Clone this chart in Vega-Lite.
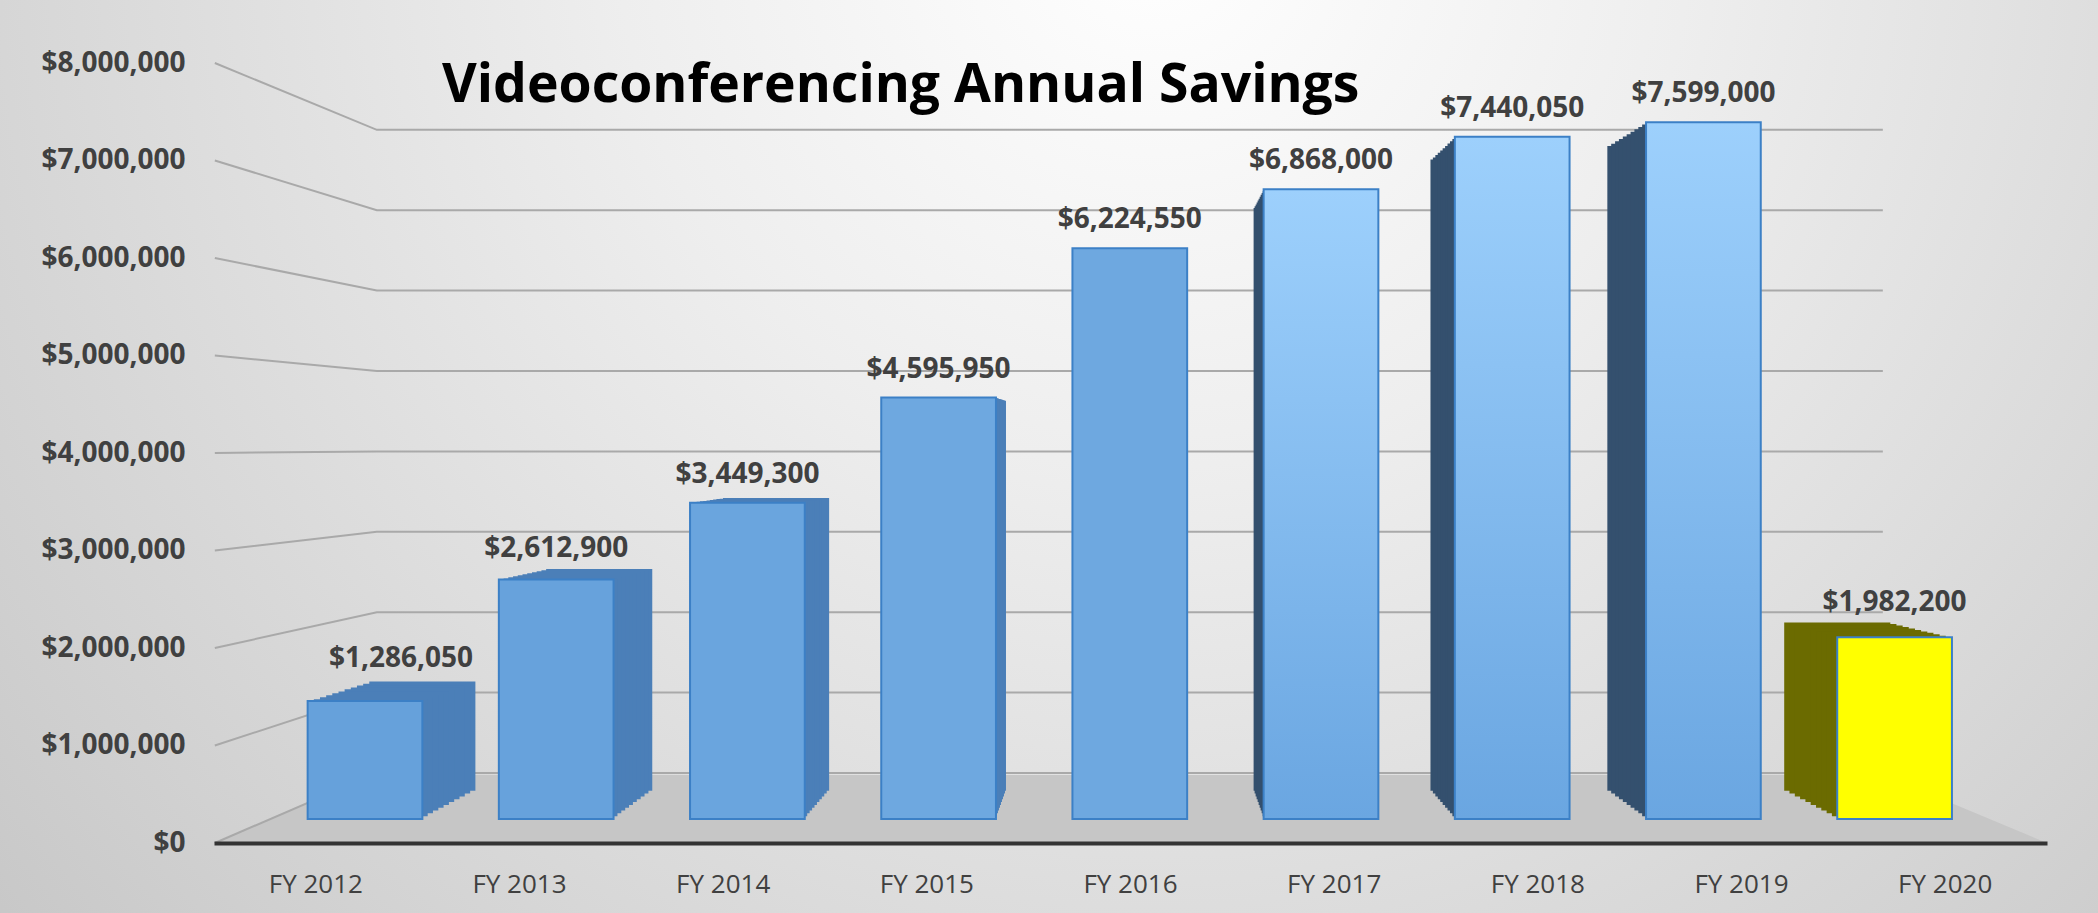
{
  "$schema": "https://vega.github.io/schema/vega-lite/v6.json",
  "width": 2098,
  "height": 913,
  "padding": 0,
  "autosize": {"type": "none"},
  "background": "#d2d2d2",
  "view": {
    "stroke": null,
    "fill": {
      "gradient": "radial",
      "x1": 0.55, "y1": 0.25, "r1": 0,
      "x2": 0.55, "y2": 0.25, "r2": 0.85,
      "stops": [
        {"offset": 0, "color": "#ffffff"},
        {"offset": 0.3, "color": "#eeeeee"},
        {"offset": 0.75, "color": "#cfcfcf"},
        {"offset": 1, "color": "#bdbdbd"}
      ]
    }
  },
  "title": {
    "text": "Videoconferencing Annual Savings",
    "anchor": "start",
    "frame": "group",
    "dx": 442,
    "offset": -155,
    "font": "Open Sans",
    "fontSize": 53.5,
    "fontWeight": "bold",
    "color": "#000000",
    "baseline": "alphabetic"
  },
  "datasets": {
    "savings": [
      {"Year": "FY 2012", "Savings": 1286050},
      {"Year": "FY 2013", "Savings": 2612900},
      {"Year": "FY 2014", "Savings": 3449300},
      {"Year": "FY 2015", "Savings": 4595950},
      {"Year": "FY 2016", "Savings": 6224550},
      {"Year": "FY 2017", "Savings": 6868000},
      {"Year": "FY 2018", "Savings": 7440050},
      {"Year": "FY 2019", "Savings": 7599000},
      {"Year": "FY 2020", "Savings": 1982200}
    ],
    "grid": [
      {"v": 0}, {"v": 1000000}, {"v": 2000000}, {"v": 3000000}, {"v": 4000000},
      {"v": 5000000}, {"v": 6000000}, {"v": 7000000}, {"v": 8000000}
    ],
    "floor": [{"part": "floor"}]
  },
  "resolve": {
    "scale": {"x": "independent", "y": "independent", "color": "independent", "shape": "independent"},
    "axis": {"x": "independent", "y": "independent"}
  },
  "layer": [
    {
      "data": {"name": "floor"},
      "mark": {"type": "point", "shape": "M-1,0L-0.8222,-0.0742L0.8222,-0.0742L1,0Z", "size": 3359889, "filled": true, "color": "#c6c6c6", "opacity": 1, "strokeWidth": 0},
      "encoding": {
        "x": {
          "datum": "FY 2016", "type": "nominal",
          "scale": {"type": "band", "domain": ["FY 2012", "FY 2013", "FY 2014", "FY 2015", "FY 2016", "FY 2017", "FY 2018", "FY 2019", "FY 2020"], "range": [214, 2047], "paddingInner": 0, "paddingOuter": 0},
          "axis": {"title": null, "orient": "bottom", "offset": -70, "domainColor": "#333333", "domainWidth": 4, "ticks": false, "tickSize": 0, "labelPadding": 28, "labelFont": "Open Sans", "labelFontSize": 26, "labelColor": "#404040", "labelAngle": 0, "grid": false, "zindex": 1}
        },
        "y": {
          "datum": 0, "type": "quantitative",
          "scale": {"domain": [0, 8000000], "range": [843, 63], "nice": false},
          "axis": {"title": null, "orient": "left", "offset": -214, "domain": false, "ticks": false, "tickSize": 0, "grid": false, "values": [0, 1000000, 2000000, 3000000, 4000000, 5000000, 6000000, 7000000, 8000000], "format": "$,.0f", "labelFont": "Open Sans", "labelFontSize": 28, "labelFontWeight": "bold", "labelColor": "#404040", "labelPadding": 29}
        }
      }
    },
    {
      "data": {"name": "grid"},
      "mark": {"type": "point", "filled": false, "size": 4, "color": "#a9a9a9", "strokeWidth": 2, "opacity": 1},
      "encoding": {
        "x": {
          "datum": "FY 2012", "type": "nominal",
          "scale": {"type": "band", "domain": ["FY 2012", "FY 2013", "FY 2014", "FY 2015", "FY 2016", "FY 2017", "FY 2018", "FY 2019", "FY 2020"], "range": [214, 2047], "paddingInner": 0, "paddingOuter": 0},
          "axis": null
        },
        "y": {"field": "v", "type": "quantitative", "scale": {"domain": [0, 8000000], "range": [843, 63], "nice": false}, "axis": null},
        "shape": {
          "field": "v", "type": "ordinal",
          "scale": {
            "domain": [0, 1000000, 2000000, 3000000, 4000000, 5000000, 6000000, 7000000, 8000000],
            "range": [
              "M-101,0L61,-70L1567,-70",
              "M-101,0L61,-52.9L1567,-52.9",
              "M-101,0L61,-35.8L1567,-35.8",
              "M-101,0L61,-18.7L1567,-18.7",
              "M-101,0L61,-1.6L1567,-1.6",
              "M-101,0L61,15.5L1567,15.5",
              "M-101,0L61,32.6L1567,32.6",
              "M-101,0L61,49.7L1567,49.7",
              "M-101,0L61,66.8L1567,66.8"
            ]
          },
          "legend": null
        }
      }
    },
    {
      "data": {"name": "savings"},
      "mark": {"type": "bar", "strokeWidth": 0},
      "encoding": {
        "x": {"field": "Year", "type": "nominal", "scale": {"type": "band", "domain": ["FY 2012", "FY 2013", "FY 2014", "FY 2015", "FY 2016", "FY 2017", "FY 2018", "FY 2019", "FY 2020"], "range": [333.9, 1925.7], "paddingInner": 0.4, "paddingOuter": 0.2}, "axis": null},
        "y": {"field": "Savings", "type": "quantitative", "scale": {"domain": [0, 8000000], "range": [790.7, 112.1], "nice": false}, "axis": null},
        "color": {"field": "Year", "type": "nominal", "scale": {"domain": ["FY 2012", "FY 2013", "FY 2014", "FY 2015", "FY 2016", "FY 2017", "FY 2018", "FY 2019", "FY 2020"], "range": ["#4b7fb8", "#4b7fb8", "#4b7fb8", "#4b7fb8", "#4b7fb8", "#34506e", "#34506e", "#34506e", "#6b6b00"]}, "legend": null}
      }
    },
    {
      "data": {"name": "savings"},
      "mark": {"type": "bar", "strokeWidth": 0},
      "encoding": {
        "x": {"field": "Year", "type": "nominal", "scale": {"type": "band", "domain": ["FY 2012", "FY 2013", "FY 2014", "FY 2015", "FY 2016", "FY 2017", "FY 2018", "FY 2019", "FY 2020"], "range": [327.5, 1932.1], "paddingInner": 0.4, "paddingOuter": 0.2}, "axis": null},
        "y": {"field": "Savings", "type": "quantitative", "scale": {"domain": [0, 8000000], "range": [793.6, 109.5], "nice": false}, "axis": null},
        "color": {"field": "Year", "type": "nominal", "scale": {"domain": ["FY 2012", "FY 2013", "FY 2014", "FY 2015", "FY 2016", "FY 2017", "FY 2018", "FY 2019", "FY 2020"], "range": ["#4b7fb8", "#4b7fb8", "#4b7fb8", "#4b7fb8", "#4b7fb8", "#34506e", "#34506e", "#34506e", "#6b6b00"]}, "legend": null}
      }
    },
    {
      "data": {"name": "savings"},
      "mark": {"type": "bar", "strokeWidth": 0},
      "encoding": {
        "x": {"field": "Year", "type": "nominal", "scale": {"type": "band", "domain": ["FY 2012", "FY 2013", "FY 2014", "FY 2015", "FY 2016", "FY 2017", "FY 2018", "FY 2019", "FY 2020"], "range": [321.0, 1938.6], "paddingInner": 0.4, "paddingOuter": 0.2}, "axis": null},
        "y": {"field": "Savings", "type": "quantitative", "scale": {"domain": [0, 8000000], "range": [796.4, 106.8], "nice": false}, "axis": null},
        "color": {"field": "Year", "type": "nominal", "scale": {"domain": ["FY 2012", "FY 2013", "FY 2014", "FY 2015", "FY 2016", "FY 2017", "FY 2018", "FY 2019", "FY 2020"], "range": ["#4b7fb8", "#4b7fb8", "#4b7fb8", "#4b7fb8", "#4b7fb8", "#34506e", "#34506e", "#34506e", "#6b6b00"]}, "legend": null}
      }
    },
    {
      "data": {"name": "savings"},
      "mark": {"type": "bar", "strokeWidth": 0},
      "encoding": {
        "x": {"field": "Year", "type": "nominal", "scale": {"type": "band", "domain": ["FY 2012", "FY 2013", "FY 2014", "FY 2015", "FY 2016", "FY 2017", "FY 2018", "FY 2019", "FY 2020"], "range": [314.6, 1945.0], "paddingInner": 0.4, "paddingOuter": 0.2}, "axis": null},
        "y": {"field": "Savings", "type": "quantitative", "scale": {"domain": [0, 8000000], "range": [799.2, 104.1], "nice": false}, "axis": null},
        "color": {"field": "Year", "type": "nominal", "scale": {"domain": ["FY 2012", "FY 2013", "FY 2014", "FY 2015", "FY 2016", "FY 2017", "FY 2018", "FY 2019", "FY 2020"], "range": ["#4b7fb8", "#4b7fb8", "#4b7fb8", "#4b7fb8", "#4b7fb8", "#34506e", "#34506e", "#34506e", "#6b6b00"]}, "legend": null}
      }
    },
    {
      "data": {"name": "savings"},
      "mark": {"type": "bar", "strokeWidth": 0},
      "encoding": {
        "x": {"field": "Year", "type": "nominal", "scale": {"type": "band", "domain": ["FY 2012", "FY 2013", "FY 2014", "FY 2015", "FY 2016", "FY 2017", "FY 2018", "FY 2019", "FY 2020"], "range": [308.1, 1951.5], "paddingInner": 0.4, "paddingOuter": 0.2}, "axis": null},
        "y": {"field": "Savings", "type": "quantitative", "scale": {"domain": [0, 8000000], "range": [802.0, 101.4], "nice": false}, "axis": null},
        "color": {"field": "Year", "type": "nominal", "scale": {"domain": ["FY 2012", "FY 2013", "FY 2014", "FY 2015", "FY 2016", "FY 2017", "FY 2018", "FY 2019", "FY 2020"], "range": ["#4b7fb8", "#4b7fb8", "#4b7fb8", "#4b7fb8", "#4b7fb8", "#34506e", "#34506e", "#34506e", "#6b6b00"]}, "legend": null}
      }
    },
    {
      "data": {"name": "savings"},
      "mark": {"type": "bar", "strokeWidth": 0},
      "encoding": {
        "x": {"field": "Year", "type": "nominal", "scale": {"type": "band", "domain": ["FY 2012", "FY 2013", "FY 2014", "FY 2015", "FY 2016", "FY 2017", "FY 2018", "FY 2019", "FY 2020"], "range": [301.7, 1957.9], "paddingInner": 0.4, "paddingOuter": 0.2}, "axis": null},
        "y": {"field": "Savings", "type": "quantitative", "scale": {"domain": [0, 8000000], "range": [804.9, 98.8], "nice": false}, "axis": null},
        "color": {"field": "Year", "type": "nominal", "scale": {"domain": ["FY 2012", "FY 2013", "FY 2014", "FY 2015", "FY 2016", "FY 2017", "FY 2018", "FY 2019", "FY 2020"], "range": ["#4b7fb8", "#4b7fb8", "#4b7fb8", "#4b7fb8", "#4b7fb8", "#34506e", "#34506e", "#34506e", "#6b6b00"]}, "legend": null}
      }
    },
    {
      "data": {"name": "savings"},
      "mark": {"type": "bar", "strokeWidth": 0},
      "encoding": {
        "x": {"field": "Year", "type": "nominal", "scale": {"type": "band", "domain": ["FY 2012", "FY 2013", "FY 2014", "FY 2015", "FY 2016", "FY 2017", "FY 2018", "FY 2019", "FY 2020"], "range": [295.2, 1964.4], "paddingInner": 0.4, "paddingOuter": 0.2}, "axis": null},
        "y": {"field": "Savings", "type": "quantitative", "scale": {"domain": [0, 8000000], "range": [807.7, 96.1], "nice": false}, "axis": null},
        "color": {"field": "Year", "type": "nominal", "scale": {"domain": ["FY 2012", "FY 2013", "FY 2014", "FY 2015", "FY 2016", "FY 2017", "FY 2018", "FY 2019", "FY 2020"], "range": ["#4b7fb8", "#4b7fb8", "#4b7fb8", "#4b7fb8", "#4b7fb8", "#34506e", "#34506e", "#34506e", "#6b6b00"]}, "legend": null}
      }
    },
    {
      "data": {"name": "savings"},
      "mark": {"type": "bar", "strokeWidth": 0},
      "encoding": {
        "x": {"field": "Year", "type": "nominal", "scale": {"type": "band", "domain": ["FY 2012", "FY 2013", "FY 2014", "FY 2015", "FY 2016", "FY 2017", "FY 2018", "FY 2019", "FY 2020"], "range": [288.8, 1970.8], "paddingInner": 0.4, "paddingOuter": 0.2}, "axis": null},
        "y": {"field": "Savings", "type": "quantitative", "scale": {"domain": [0, 8000000], "range": [810.5, 93.4], "nice": false}, "axis": null},
        "color": {"field": "Year", "type": "nominal", "scale": {"domain": ["FY 2012", "FY 2013", "FY 2014", "FY 2015", "FY 2016", "FY 2017", "FY 2018", "FY 2019", "FY 2020"], "range": ["#4b7fb8", "#4b7fb8", "#4b7fb8", "#4b7fb8", "#4b7fb8", "#34506e", "#34506e", "#34506e", "#6b6b00"]}, "legend": null}
      }
    },
    {
      "data": {"name": "savings"},
      "mark": {"type": "bar", "strokeWidth": 0},
      "encoding": {
        "x": {"field": "Year", "type": "nominal", "scale": {"type": "band", "domain": ["FY 2012", "FY 2013", "FY 2014", "FY 2015", "FY 2016", "FY 2017", "FY 2018", "FY 2019", "FY 2020"], "range": [282.3, 1977.3], "paddingInner": 0.4, "paddingOuter": 0.2}, "axis": null},
        "y": {"field": "Savings", "type": "quantitative", "scale": {"domain": [0, 8000000], "range": [813.3, 90.7], "nice": false}, "axis": null},
        "color": {"field": "Year", "type": "nominal", "scale": {"domain": ["FY 2012", "FY 2013", "FY 2014", "FY 2015", "FY 2016", "FY 2017", "FY 2018", "FY 2019", "FY 2020"], "range": ["#4b7fb8", "#4b7fb8", "#4b7fb8", "#4b7fb8", "#4b7fb8", "#34506e", "#34506e", "#34506e", "#6b6b00"]}, "legend": null}
      }
    },
    {
      "data": {"name": "savings"},
      "mark": {"type": "bar", "strokeWidth": 0},
      "encoding": {
        "x": {"field": "Year", "type": "nominal", "scale": {"type": "band", "domain": ["FY 2012", "FY 2013", "FY 2014", "FY 2015", "FY 2016", "FY 2017", "FY 2018", "FY 2019", "FY 2020"], "range": [275.9, 1983.7], "paddingInner": 0.4, "paddingOuter": 0.2}, "axis": null},
        "y": {"field": "Savings", "type": "quantitative", "scale": {"domain": [0, 8000000], "range": [816.2, 88.1], "nice": false}, "axis": null},
        "color": {"field": "Year", "type": "nominal", "scale": {"domain": ["FY 2012", "FY 2013", "FY 2014", "FY 2015", "FY 2016", "FY 2017", "FY 2018", "FY 2019", "FY 2020"], "range": ["#4b7fb8", "#4b7fb8", "#4b7fb8", "#4b7fb8", "#4b7fb8", "#34506e", "#34506e", "#34506e", "#6b6b00"]}, "legend": null}
      }
    },
    {
      "data": {"name": "savings"},
      "transform": [{"filter": "datum.Year < 'FY 2017' || datum.Year > 'FY 2019'"}],
      "mark": {"type": "bar", "stroke": "#3c80c6", "strokeWidth": 2, "fillOpacity": 1},
      "encoding": {
        "x": {"field": "Year", "type": "nominal", "scale": {"type": "band", "domain": ["FY 2012", "FY 2013", "FY 2014", "FY 2015", "FY 2016", "FY 2017", "FY 2018", "FY 2019", "FY 2020"], "range": [269.4, 1990.2], "paddingInner": 0.4, "paddingOuter": 0.2}, "axis": null},
        "y": {"field": "Savings", "type": "quantitative", "scale": {"domain": [0, 8000000], "range": [819, 85.4], "nice": false}, "axis": null},
        "color": {
          "field": "Year", "type": "nominal",
          "scale": {
            "domain": ["FY 2012", "FY 2013", "FY 2014", "FY 2015", "FY 2016", "FY 2020"],
            "range": ["#66a1db", "#67a2dc", "#6aa5de", "#6ea8e0", "#6ea8e0", "#ffff00"]
          },
          "legend": null
        }
      }
    },
    {
      "data": {"name": "savings"},
      "transform": [{"filter": "datum.Year >= 'FY 2017' && datum.Year <= 'FY 2019'"}],
      "mark": {
        "type": "bar", "stroke": "#3c80c6", "strokeWidth": 2, "fillOpacity": 1,
        "color": {"gradient": "linear", "x1": 0, "y1": 0, "x2": 0, "y2": 1, "stops": [{"offset": 0, "color": "#9dd0fc"}, {"offset": 1, "color": "#6aa6e1"}]}
      },
      "encoding": {
        "x": {"field": "Year", "type": "nominal", "scale": {"type": "band", "domain": ["FY 2012", "FY 2013", "FY 2014", "FY 2015", "FY 2016", "FY 2017", "FY 2018", "FY 2019", "FY 2020"], "range": [269.4, 1990.2], "paddingInner": 0.4, "paddingOuter": 0.2}, "axis": null},
        "y": {"field": "Savings", "type": "quantitative", "scale": {"domain": [0, 8000000], "range": [819, 85.4], "nice": false}, "axis": null}
      }
    },
    {
      "data": {"name": "savings"},
      "transform": [{"filter": "datum.Savings >= 3000000"}],
      "mark": {"type": "text", "font": "Open Sans", "fontSize": 28, "fontWeight": "bold", "color": "#404040", "baseline": "alphabetic", "align": "center", "dy": -20},
      "encoding": {
        "x": {"field": "Year", "type": "nominal", "scale": {"type": "band", "domain": ["FY 2012", "FY 2013", "FY 2014", "FY 2015", "FY 2016", "FY 2017", "FY 2018", "FY 2019", "FY 2020"], "range": [269.4, 1990.2], "paddingInner": 0.4, "paddingOuter": 0.2}, "axis": null},
        "y": {"field": "Savings", "type": "quantitative", "scale": {"domain": [0, 8000000], "range": [819, 85.4], "nice": false}, "axis": null},
        "text": {"field": "Savings", "type": "quantitative", "format": "$,.0f"}
      }
    },
    {
      "data": {"name": "savings"},
      "transform": [{"filter": "datum.Savings < 3000000 && datum.Year != 'FY 2012'"}],
      "mark": {"type": "text", "font": "Open Sans", "fontSize": 28, "fontWeight": "bold", "color": "#404040", "baseline": "alphabetic", "align": "center", "dy": -12},
      "encoding": {
        "x": {"field": "Year", "type": "nominal", "scale": {"type": "band", "domain": ["FY 2012", "FY 2013", "FY 2014", "FY 2015", "FY 2016", "FY 2017", "FY 2018", "FY 2019", "FY 2020"], "range": [269.4, 1990.2], "paddingInner": 0.4, "paddingOuter": 0.2}, "axis": null},
        "y": {"field": "Savings", "type": "quantitative", "scale": {"domain": [0, 8000000], "range": [790.7, 112.1], "nice": false}, "axis": null},
        "text": {"field": "Savings", "type": "quantitative", "format": "$,.0f"}
      }
    },
    {
      "data": {"name": "savings"},
      "transform": [{"filter": "datum.Year == 'FY 2012'"}],
      "mark": {"type": "text", "font": "Open Sans", "fontSize": 28, "fontWeight": "bold", "color": "#404040", "baseline": "alphabetic", "align": "center", "dy": -15, "dx": 36},
      "encoding": {
        "x": {"field": "Year", "type": "nominal", "scale": {"type": "band", "domain": ["FY 2012", "FY 2013", "FY 2014", "FY 2015", "FY 2016", "FY 2017", "FY 2018", "FY 2019", "FY 2020"], "range": [269.4, 1990.2], "paddingInner": 0.4, "paddingOuter": 0.2}, "axis": null},
        "y": {"field": "Savings", "type": "quantitative", "scale": {"domain": [0, 8000000], "range": [790.7, 112.1], "nice": false}, "axis": null},
        "text": {"field": "Savings", "type": "quantitative", "format": "$,.0f"}
      }
    }
  ]
}
